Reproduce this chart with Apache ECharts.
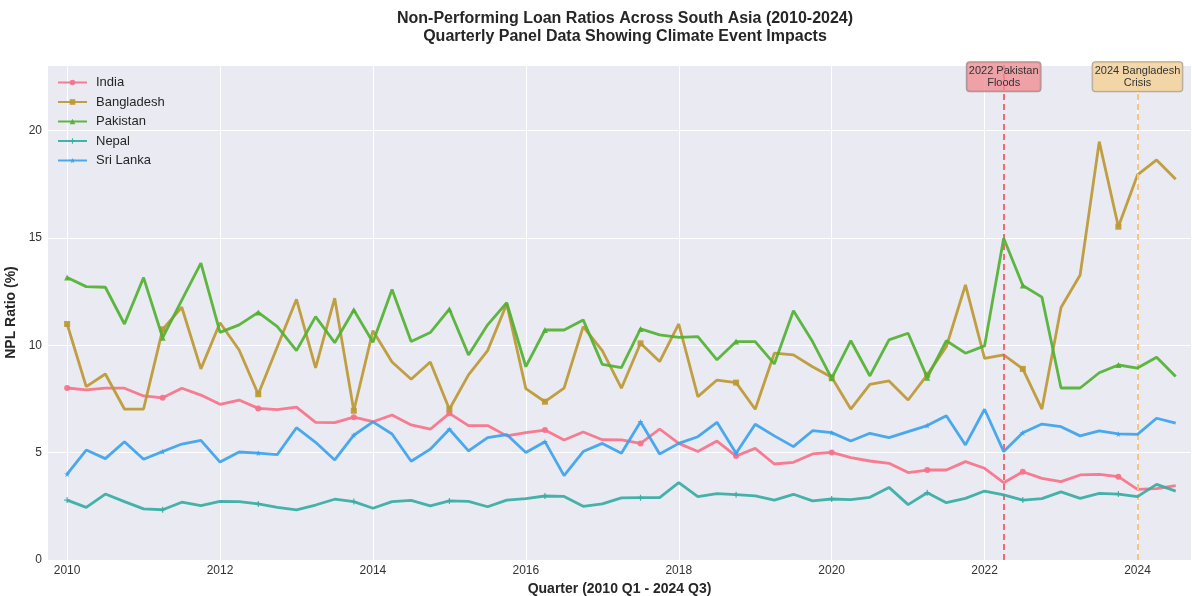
<!DOCTYPE html>
<html>
<head>
<meta charset="utf-8">
<script src="https://cdn.jsdelivr.net/npm/echarts@6/dist/echarts.min.js"></script>
<style>
html,body{margin:0;padding:0;background:#fff;}
#chart{width:1192px;height:596px;}
</style>
</head>
<body>
<div id="chart"></div>
<script>
const startYear = 2010;
const yearTicks = [2010, 2012, 2014, 2016, 2018, 2020, 2022, 2024];
const yTicks = [0, 5, 10, 15, 20];
const seriesNames = ['India', 'Bangladesh', 'Pakistan', 'Nepal', 'Sri Lanka'];

const india = [8.01,7.92,8.00,8.00,7.64,7.55,8.00,7.68,7.25,7.45,7.06,7.00,7.12,6.41,6.40,6.65,6.44,6.75,6.29,6.09,6.83,6.26,6.26,5.78,5.93,6.05,5.59,5.96,5.60,5.59,5.43,6.10,5.43,5.05,5.54,4.84,5.20,4.47,4.55,4.94,5.01,4.77,4.61,4.50,4.07,4.19,4.19,4.58,4.27,3.60,4.11,3.80,3.65,3.96,3.99,3.88,3.29,3.32,3.46];
const bangladesh = [10.99,8.07,8.66,7.03,7.03,10.74,11.77,8.90,11.05,9.78,7.72,9.93,12.14,8.95,12.19,6.95,10.68,9.22,8.42,9.22,7.02,8.62,9.75,11.92,7.98,7.37,8.00,10.87,9.75,8.00,10.09,9.24,10.99,7.61,8.38,8.26,7.02,9.63,9.55,9.00,8.51,7.03,8.18,8.34,7.45,8.62,9.93,12.81,9.39,9.55,8.90,7.03,11.76,13.27,19.48,15.52,17.93,18.63,17.73];
const pakistan = [13.15,12.73,12.70,10.99,13.15,10.35,12.10,13.82,10.60,10.95,11.53,10.87,9.75,11.33,10.12,11.64,10.14,12.60,10.17,10.59,11.68,9.55,10.95,11.98,9.00,10.71,10.71,11.18,9.11,8.96,10.76,10.48,10.37,10.40,9.32,10.17,10.17,9.13,11.61,10.17,8.46,10.21,8.57,10.25,10.56,8.49,10.21,9.63,9.97,14.98,12.78,12.24,8.01,8.01,8.72,9.08,8.94,9.44,8.54];
const nepal = [2.79,2.45,3.07,2.72,2.38,2.34,2.69,2.53,2.73,2.72,2.61,2.45,2.33,2.56,2.83,2.72,2.41,2.72,2.78,2.52,2.75,2.73,2.48,2.79,2.86,2.98,2.96,2.50,2.61,2.89,2.90,2.90,3.60,2.95,3.09,3.04,2.99,2.79,3.06,2.75,2.84,2.81,2.92,3.38,2.58,3.13,2.67,2.87,3.21,3.03,2.79,2.86,3.17,2.87,3.10,3.07,2.95,3.52,3.21];
const sriLanka = [4.00,5.12,4.72,5.51,4.69,5.05,5.40,5.57,4.56,5.03,4.98,4.91,6.16,5.48,4.66,5.81,6.43,5.87,4.60,5.16,6.09,5.08,5.70,5.84,5.01,5.51,3.93,5.05,5.43,4.97,6.44,4.94,5.43,5.74,6.41,4.97,6.32,5.78,5.28,6.02,5.93,5.54,5.90,5.70,5.98,6.26,6.72,5.36,7.02,5.05,5.93,6.33,6.21,5.78,6.01,5.87,5.85,6.60,6.37];

const events = [
  { year: 2022.25, label: '2022 Pakistan\nFloods' },
  { year: 2024.0, label: '2024 Bangladesh\nCrisis' }
];

const colors = ['#f77189', '#bb9832', '#50b131', '#36ada4', '#3ba3ec'];
const starPath = 'path://M50,0 L61,35 L98,35 L68,57 L79,91 L50,70 L21,91 L32,57 L2,35 L39,35 Z';
const plusPath = 'path://M40,0 L60,0 L60,40 L100,40 L100,60 L60,60 L60,100 L40,100 L40,60 L0,60 L0,40 L40,40 Z';
const symbols = ['circle', 'rect', 'triangle', plusPath, starPath];
const values = [india, bangladesh, pakistan, nepal, sriLanka];

const FONT = 'Liberation Sans, Arial, sans-serif';

function toPoints(arr) {
  return arr.map((v, i) => [startYear + i * 0.25, v]);
}

const series = seriesNames.map((name, k) => ({
  name: name,
  type: 'line',
  data: toPoints(values[k]),
  symbol: symbols[k],
  showAllSymbol: true,
  symbolSize: function (val, params) { return params.dataIndex % 5 === 0 ? 6 : 0; },
  lineStyle: { width: 2.8, color: colors[k], opacity: 0.92 },
  itemStyle: { color: colors[k], opacity: 0.92 },
  emphasis: { disabled: true },
  animation: false,
  z: 3 + k
}));

series.push({
  name: 'events',
  type: 'line',
  data: [],
  silent: true,
  animation: false,
  markLine: {
    silent: true,
    symbol: ['none', 'none'],
    label: { show: false },
    animation: false,
    data: [
      { xAxis: events[0].year, lineStyle: { color: '#f0565e', type: [6, 4], width: 2, opacity: 0.85 } },
      { xAxis: events[1].year, lineStyle: { color: '#f8c579', type: [6, 4], width: 2, opacity: 1 } }
    ]
  },
  markPoint: {
    silent: true,
    animation: false,
    symbol: 'rect',
    symbolSize: 0,
    data: [
      {
        coord: [events[0].year, 22.5],
        label: {
          show: true, position: 'inside', formatter: events[0].label,
          fontFamily: FONT, fontSize: 11, lineHeight: 12, color: '#333',
          backgroundColor: 'rgba(238,140,146,0.78)', borderColor: '#a09a9a', borderWidth: 1,
          borderRadius: 3, padding: [3, 2, 2, 2], align: 'center'
        }
      },
      {
        coord: [events[1].year, 22.5],
        label: {
          show: true, position: 'inside', formatter: events[1].label,
          fontFamily: FONT, fontSize: 11, lineHeight: 12, color: '#333',
          backgroundColor: 'rgba(245,210,155,0.85)', borderColor: '#aaa49a', borderWidth: 1,
          borderRadius: 3, padding: [3, 2, 2, 2], align: 'center'
        }
      }
    ]
  },
  z: 10
});

const option = {
  backgroundColor: '#ffffff',
  animation: false,
  title: {
    text: 'Non-Performing Loan Ratios Across South Asia (2010-2024)\nQuarterly Panel Data Showing Climate Event Impacts',
    left: 620,
    top: 5,
    textAlign: 'center',
    textStyle: { fontFamily: FONT, fontSize: 16, fontWeight: 'bold', color: '#262626', lineHeight: 18 }
  },
  legend: {
    data: seriesNames,
    orient: 'vertical',
    left: 52,
    top: 71,
    itemWidth: 29,
    itemHeight: 7,
    itemGap: 6.5,
    textStyle: { fontFamily: FONT, fontSize: 13, color: '#262626', padding: [0, 0, 0, 4] }
  },
  grid: { left: 48, right: 1, top: 65, bottom: 36, outerBoundsMode: 'none', containLabel: false, show: true, backgroundColor: '#eaeaf2', borderWidth: 0 },
  xAxis: {
    type: 'value',
    min: 2009.75,
    max: 2024.7,
    name: 'Quarter (2010 Q1 - 2024 Q3)',
    nameLocation: 'middle',
    nameGap: 20,
    nameTextStyle: { fontFamily: FONT, fontSize: 14, fontWeight: 'bold', color: '#262626' },
    axisLine: { show: false },
    axisTick: { show: false, customValues: yearTicks },
    axisLabel: { customValues: yearTicks, fontFamily: FONT, fontSize: 12, color: '#333', margin: 5, formatter: v => String(v) },
    splitLine: { show: true, lineStyle: { color: '#ffffff', width: 1 } }
  },
  yAxis: {
    type: 'value',
    min: 0,
    max: 23.05,
    interval: 5,
    name: 'NPL Ratio (%)',
    nameLocation: 'middle',
    nameGap: 30,
    nameRotate: 90,
    nameTextStyle: { fontFamily: FONT, fontSize: 14, fontWeight: 'bold', color: '#262626' },
    axisLine: { show: false },
    axisTick: { show: false },
    axisLabel: { fontFamily: FONT, fontSize: 12, color: '#333', margin: 6, showMaxLabel: false },
    splitLine: { show: true, lineStyle: { color: '#ffffff', width: 1 } }
  },
  series: series
};

const chart = echarts.init(document.getElementById('chart'), null, { renderer: 'canvas' });
chart.setOption(option);
</script>
</body>
</html>
